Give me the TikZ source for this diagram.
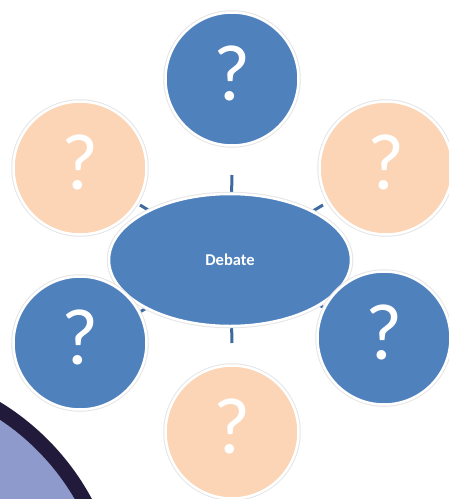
\documentclass[tikz,border=0pt]{standalone}
\usepackage{fontspec}
\setmainfont{Carlito}
\usetikzlibrary{shapes.geometric,backgrounds}
\definecolor{cblue}{HTML}{4F81BD}
\definecolor{cpeach}{HTML}{FBD5B5}
\definecolor{cline}{HTML}{3E6AA0}
\definecolor{cnavy}{HTML}{221A3A}
\definecolor{clav}{HTML}{8E9ACC}
\tikzset{
  bubble/.style={circle, inner sep=0pt, minimum size=133pt, draw=white, line width=2.5pt,
    preaction={draw=black!10, line width=4.5pt}, text=white,
    text height=53pt, text depth=10pt,
    font=\fontsize{80}{80}\selectfont},
  bluebubble/.style={bubble, fill=cblue},
  peachbubble/.style={bubble, fill=cpeach},
  hub/.style={ellipse, inner sep=0pt, minimum width=242pt, minimum height=132pt,
    fill=cblue, draw=white, line width=2.5pt, preaction={draw=black!10, line width=4.5pt},
    text=white, font=\fontsize{16.5}{16.5}\selectfont\bfseries},
  conn/.style={draw=cline, line width=3pt}
}
\begin{document}
\begin{tikzpicture}[x=1pt,y=-1pt]
\useasboundingbox (0,0) rectangle (449,499);
\clip (0,0) rectangle (449,499);
% decorative corner disc
\draw[fill=clav, draw=cnavy, line width=15pt] (-132,619) circle (246.5);
% hub and bubbles
\node[hub] (e) at (230,260) {Debate};
\node[bluebubble] (t) at (232,79) {?};
\node[peachbubble] (tl) at (80,168) {?};
\node[peachbubble] (tr) at (386,168) {?};
\node[bluebubble] (bl) at (80,343) {?};
\node[bluebubble] (br) at (384,338) {?};
\node[peachbubble] (b) at (232,432) {?};
% free ends of connectors
\coordinate (ct) at (232,175);
\coordinate (ctl) at (140,205);
\coordinate (ctr) at (323,205);
\coordinate (cbl) at (138,313);
\coordinate (cbr) at (325,308);
\coordinate (cb) at (232,343);
\begin{scope}[on background layer]
\draw[conn] (e.center) -- (ct);
\draw[conn] (e.center) -- (ctl);
\draw[conn] (e.center) -- (ctr);
\draw[conn] (e.center) -- (cbl);
\draw[conn] (e.center) -- (cbr);
\draw[conn] (e.center) -- (cb);
\end{scope}
\end{tikzpicture}
\end{document}
